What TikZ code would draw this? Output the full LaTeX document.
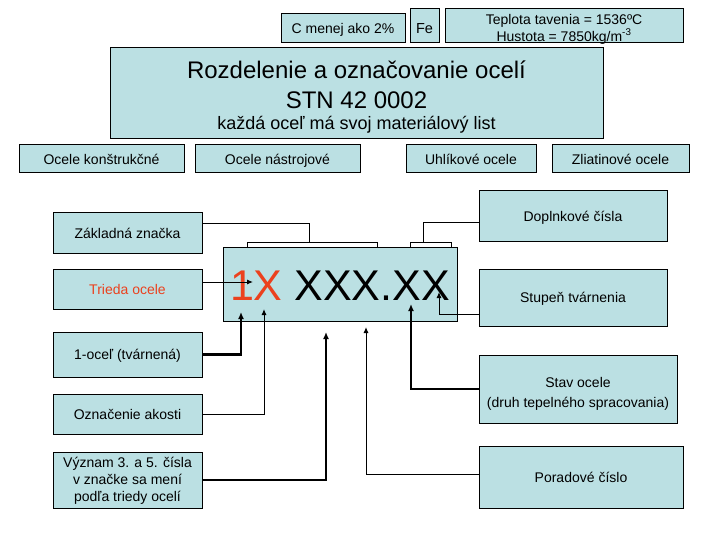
\documentclass[tikz,border=0pt]{standalone}
\usepackage{fontspec}
\setmainfont{Liberation Sans}
\usetikzlibrary{arrows.meta,calc}
\definecolor{boxfill}{RGB}{187,224,227}
\definecolor{redtxt}{RGB}{235,65,30}
\tikzset{
  boxraise/.store in=\boxraise, boxraise=2pt,
  box/.style={draw=black, line width=1pt, fill=boxfill, inner sep=0pt,
    font=\fontsize{14}{16}\selectfont},
  thn/.style={draw=black, line width=1pt},
  thk/.style={draw=black, line width=2.2pt},
  tipthin/.style={-{Latex[length=6pt,width=5pt]}},
  tipthick/.style={-{Latex[length=7pt,width=6pt]}}
}
\newcommand\mybox[7][]{\node[box,minimum width={#5-#3},minimum height={#6-#4},#1] (#2) at ({(#3+#5)/2},{(#4+#6)/2}) {\raisebox{-\boxraise}[\height][\depth]{\begin{tabular}{@{}c@{}}#7\end{tabular}}};}
\begin{document}
\begin{tikzpicture}[x=1pt,y=-1pt]
\useasboundingbox[fill=white] (0,0) rectangle (720,540);
% top row
\mybox{cmenej}{281}{14}{405}{43}{C menej ako 2\%}
\mybox[font=\fontsize{14.5}{16}\selectfont,boxraise=4pt]{fe}{410}{9}{439}{43}{Fe}
\mybox[font=\fontsize{14}{14.5}\selectfont,boxraise=4pt]{tepl}{445}{9}{683}{43}{Teplota tavenia = 1536ºC\\Hustota = 7850kg/m\textsuperscript{-3}}
% title
\mybox[font=\fontsize{24}{30}\selectfont,boxraise=5pt]{title}{110}{48}{603}{139}{Rozdelenie a označovanie ocelí\\STN 42 0002\\[-9pt]{\fontsize{18}{22}\selectfont každá oceľ má svoj materiálový list}}
% categories
\mybox{konst}{19}{145}{184}{173}{Ocele konštrukčné}
\mybox{nastr}{195}{145}{360}{173}{Ocele nástrojové}
\mybox{uhl}{406}{145}{536}{173}{Uhlíkové ocele}
\mybox{zliat}{552}{145}{689}{173}{Zliatinové ocele}
% left column
\mybox{zakl}{53}{213}{202}{253}{Základná značka}
\mybox[text=redtxt]{trieda}{53}{269}{202}{309}{Trieda ocele}
\mybox{ocel1}{53}{332}{202}{377}{1-oceľ (tvárnená)}
\mybox{akost}{53}{394}{202}{434}{Označenie akosti}
\mybox[font=\fontsize{14}{17}\selectfont,boxraise=1pt]{vyznam}{53}{452}{202}{508}{Význam 3. a 5. čísla\\v značke sa mení\\podľa triedy ocelí}
% central mark
\mybox[font=\fontsize{43}{48}\selectfont,boxraise=7pt]{znacka}{223}{247}{457}{321}{{\color{redtxt}1X} XXX.XX}
% right column
\mybox{dopl}{479}{191}{667}{241}{Doplnkové čísla}
\mybox{stupen}{479}{269}{667}{326}{Stupeň tvárnenia}
\mybox[font=\fontsize{14}{20}\selectfont,boxraise=4pt]{stav}{479}{355}{677}{423}{Stav ocele\\(druh tepelného spracovania)}
\mybox{porad}{479}{446}{683}{508}{Poradové číslo}
% brackets
\coordinate (b1) at (309,242);
\coordinate (b2) at (423,242);
\draw[thn] (247,247) -- (247,242) -- (377,242) -- (377,247);
\draw[thn] (410,247) -- (410,242) -- (451,242) -- (451,247);
\draw[thn] ([yshift=9pt]zakl.east) -| (b1);
\draw[thn] ([yshift=-7pt]dopl.west) -| (b2);
% arrow tips
\coordinate (t1) at (241,312);
\coordinate (t2) at (264,309);
\coordinate (t3) at (326,332);
\coordinate (t4) at (366,327);
\coordinate (t5) at (411,304);
\coordinate (t6) at (439,292);
\coordinate (t7) at (253,282);
\draw[thn,tipthin] ([yshift=7pt]trieda.east) -- (t7);
\draw[thk,tipthick] (ocel1.east) -| (t1);
\draw[thn,tipthin] (akost.east) -| (t2);
\draw[thk,tipthick] (vyznam.east) -| (t3);
\draw[thn,tipthin] ([yshift=3pt]porad.west) -| (t4);
\draw[thk,tipthick] (stav.west) -| (t5);
\draw[thn,tipthin] ([yshift=-17pt]stupen.west) -| (t6);
\end{tikzpicture}
\end{document}
